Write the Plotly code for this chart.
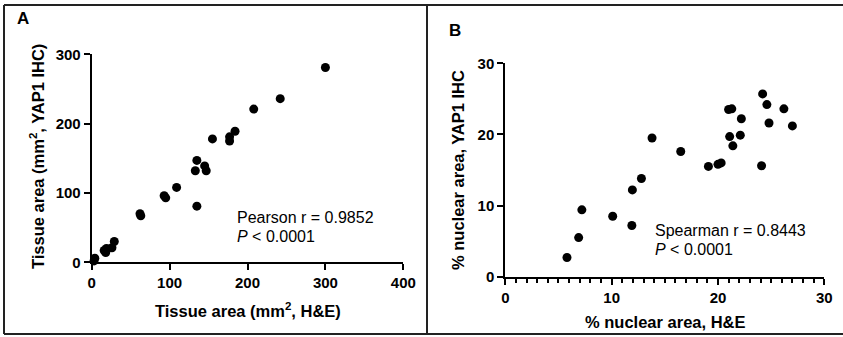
import plotly.graph_objects as go

# ---------------- data ----------------
a_he = [300, 242, 208, 184, 177, 177, 155, 135, 145, 133, 147, 109, 93, 95, 135,
        62, 63, 29, 26, 19, 16, 18, 4, 3]
a_ihc = [281, 236, 221, 189, 181, 175, 178, 147, 139, 132, 132, 108, 96, 93, 81,
         70, 67, 30, 21, 20, 17, 14, 6, 2]

b_he = [5.8, 6.9, 7.2, 10.1, 11.9, 11.95, 12.8, 13.8, 16.5, 19.1, 20.0, 20.3,
        21.0, 21.3, 21.1, 21.4, 22.2, 22.1, 24.2, 24.6, 24.8, 24.1, 26.2, 27.0]
b_ihc = [2.7, 5.5, 9.4, 8.5, 7.2, 12.2, 13.8, 19.5, 17.6, 15.5, 15.8, 16.0,
         23.5, 23.6, 19.7, 18.4, 22.2, 19.9, 25.7, 24.2, 21.6, 15.6, 23.6, 21.2]

a_xticks = [0, 100, 200, 300, 400]
a_yticks = [0, 100, 200, 300]
b_xticks = [0, 10, 20, 30]
b_yticks = [0, 10, 20, 30]

W, H = 843, 337
FONT = "Liberation Sans, Arial, sans-serif"


def px(x):
    return x / W


def py(y):
    return 1 - y / H


fig = go.Figure()
fig.add_trace(go.Scatter(x=a_he, y=a_ihc, mode="markers", xaxis="x", yaxis="y",
                         marker=dict(size=9, color="black"), cliponaxis=False,
                         showlegend=False))
fig.add_trace(go.Scatter(x=b_he, y=b_ihc, mode="markers", xaxis="x2", yaxis="y2",
                         marker=dict(size=9, color="black"), cliponaxis=False,
                         showlegend=False))

axis_common = dict(showgrid=False, zeroline=False, showline=True, linecolor="black",
                   linewidth=2, ticks="outside", ticklen=6, tickwidth=2,
                   tickcolor="black", automargin=False,
                   tickfont=dict(family=FONT, size=15, color="black", weight="bold"))

fig.update_layout(
    width=W, height=H,
    margin=dict(l=0, r=0, t=0, b=0),
    paper_bgcolor="white", plot_bgcolor="white",
    xaxis=dict(domain=[px(91.7), px(403.3)], range=[0, 400], tickvals=a_xticks,
               anchor="y", **axis_common),
    yaxis=dict(domain=[py(262.3), py(54.3)], range=[0, 300], tickvals=a_yticks,
               anchor="x", **axis_common),
    xaxis2=dict(domain=[px(505.3), px(824.3)], range=[0, 30], tickvals=b_xticks,
                anchor="y2",
                minor=dict(dtick=1, ticks="outside", ticklen=4, tickwidth=1.5,
                           tickcolor="black"),
                **axis_common),
    yaxis2=dict(domain=[py(276.7), py(63.3)], range=[0, 30], tickvals=b_yticks,
                anchor="x2", **axis_common),
)

ann = []


def text(x, y, s, size, bold=False, xanchor="center", angle=0):
    ann.append(dict(x=px(x), y=py(y), xref="paper", yref="paper", text=s,
                    showarrow=False, xanchor=xanchor, yanchor="middle",
                    textangle=angle,
                    font=dict(family=FONT, size=size, color="black",
                              weight="bold" if bold else "normal")))


# panel labels
text(23, 19, "A", 17, bold=True)
text(455, 31, "B", 17, bold=True)
# axis titles
text(247.5, 310, "Tissue area (mm<sup>2</sup>, H&E)", 16.5, bold=True)
text(37, 157, "Tissue area (mm<sup>2</sup>, YAP1 IHC)", 16.5, bold=True, angle=-90)
text(665, 321.5, "% nuclear area, H&E", 16.5, bold=True)
text(458, 170, "% nuclear area, YAP1 IHC", 16.5, bold=True, angle=-90)
# statistics
text(235, 217, "Pearson r = 0.9852", 16, xanchor="left")
text(235, 236.7, "<i>P</i> < 0.0001", 16, xanchor="left")
text(652.5, 230, "Spearman r = 0.8443", 16, xanchor="left")
text(652.5, 249.3, "<i>P</i> < 0.0001", 16, xanchor="left")
fig.update_layout(annotations=ann)

# frame lines
shapes = []
for x0, y0, x1, y1 in [(4, 5, 843, 5), (4, 5, 4, 334), (4, 334, 843, 334),
                       (427, 5, 427, 334)]:
    shapes.append(dict(type="line", xref="paper", yref="paper",
                       x0=px(x0), y0=py(y0), x1=px(x1), y1=py(y1),
                       line=dict(color="#222222", width=2)))
fig.update_layout(shapes=shapes)

fig.write_html("out.html")
